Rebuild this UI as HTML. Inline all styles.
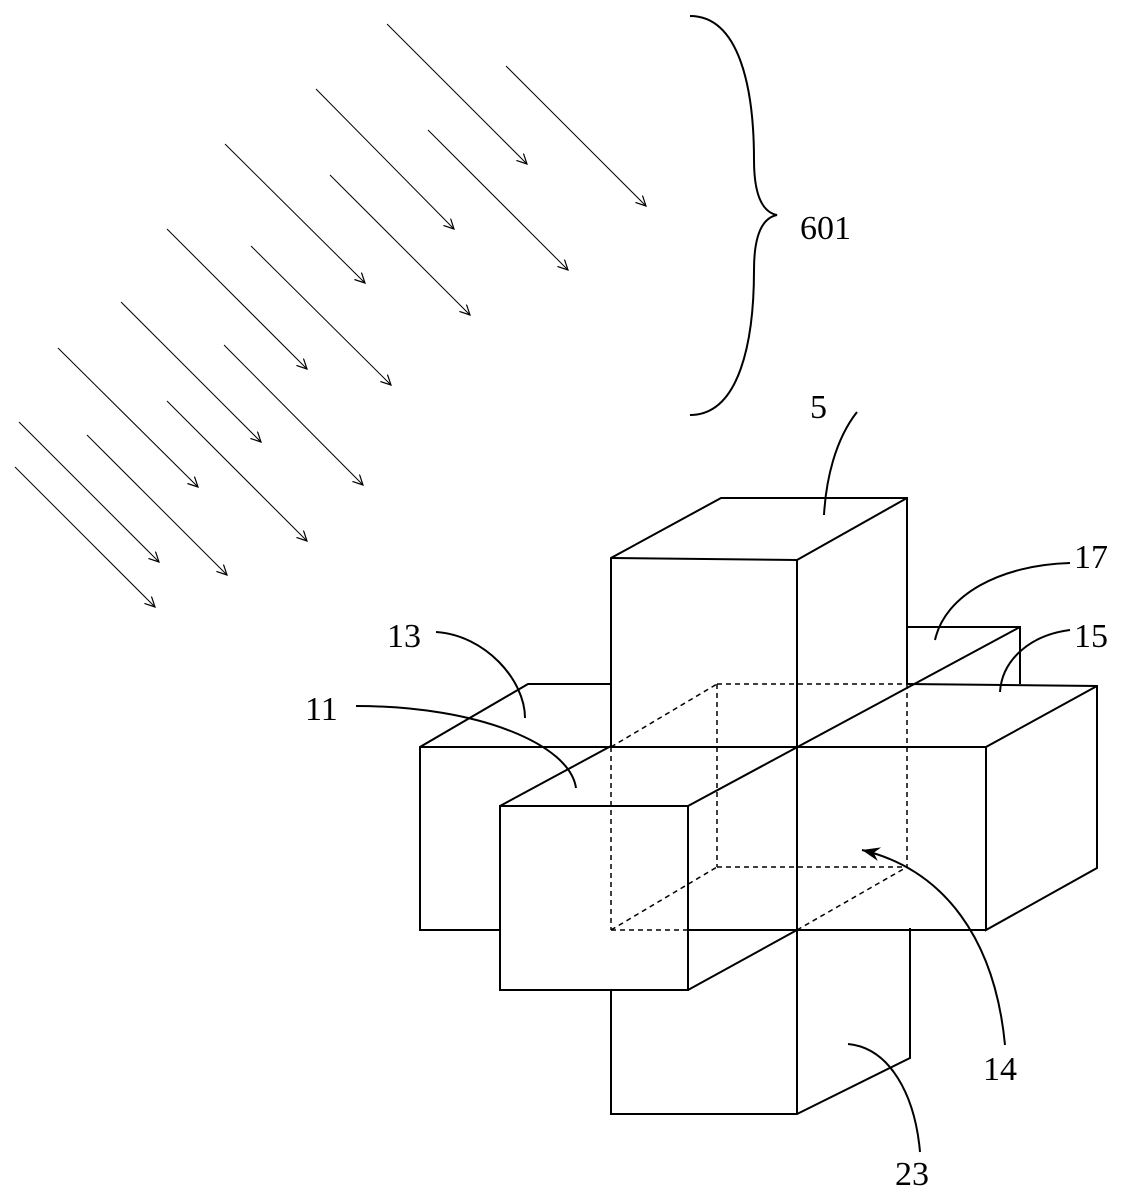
<!DOCTYPE html>
<html><head><meta charset="utf-8"><style>
html,body{margin:0;padding:0;background:#fff;}
svg{display:block;}
text{font-family:"Liberation Serif",serif;font-size:34px;fill:#000;}
</style></head><body>
<svg width="1146" height="1200" viewBox="0 0 1146 1200" xmlns="http://www.w3.org/2000/svg">
<defs>
<marker id="a" markerWidth="12" markerHeight="12" refX="10" refY="5" orient="auto" markerUnits="userSpaceOnUse">
<path d="M0,0 L10,5 L0,10" fill="none" stroke="#000" stroke-width="1.2"/>
</marker>
<marker id="b" markerWidth="22" markerHeight="18" refX="18" refY="8" orient="auto" markerUnits="userSpaceOnUse">
<path d="M0,1 L18,8 L0,15 L6,8 Z" fill="#000"/>
</marker>
</defs>
<g stroke="#000" stroke-width="1" marker-end="url(#a)">
<line x1="387" y1="24" x2="527" y2="164"/>
<line x1="506" y1="66" x2="646" y2="206"/>
<line x1="316" y1="89" x2="454" y2="229"/>
<line x1="428" y1="130" x2="568" y2="270"/>
<line x1="225" y1="144" x2="365" y2="283"/>
<line x1="330" y1="175" x2="470" y2="315"/>
<line x1="167" y1="229" x2="307" y2="369"/>
<line x1="251" y1="246" x2="391" y2="385"/>
<line x1="121" y1="302" x2="261" y2="442"/>
<line x1="224" y1="345" x2="363" y2="485"/>
<line x1="58" y1="348" x2="198" y2="487"/>
<line x1="167" y1="401" x2="307" y2="541"/>
<line x1="87" y1="435" x2="227" y2="575"/>
<line x1="19" y1="422" x2="159" y2="562"/>
<line x1="15" y1="467" x2="155" y2="607"/>
</g>
<path d="M690,16 C740,16 754,90 754,160 C754,195 762,212 777,215 C762,218 754,235 754,270 C754,340 740,415 690,415" fill="none" stroke="#000" stroke-width="2"/>
<text x="800" y="239">601</text>
<g fill="none" stroke="#000" stroke-width="2" stroke-linejoin="miter">
<path d="M611,746 L611,558 L721,498 L907,498 L907,684"/>
<path d="M611,558 L797,560 L907,498"/>
<line x1="797" y1="560" x2="797" y2="1114"/>
<path d="M500,930 L420,930 L420,747 L528,684 L611,684"/>
<line x1="420" y1="747" x2="986" y2="747"/>
<path d="M907,684 L1097,686 L1097,868 L986,930 L986,747 L1097,686"/>
<line x1="688" y1="930" x2="986" y2="930"/>
<path d="M907,627 L1020,627 L1020,684"/>
<line x1="688" y1="806" x2="1020" y2="627"/>
<path d="M500,806 L688,806 L688,990 L500,990 Z"/>
<path d="M500,806 L611,746"/>
<path d="M688,990 L797,930"/>
<path d="M611,990 L611,1114 L797,1114 L910,1058 L910,928"/>
</g>
<g fill="none" stroke="#000" stroke-width="1.5" stroke-dasharray="5,4">
<line x1="611" y1="747" x2="611" y2="930"/>
<line x1="611" y1="930" x2="688" y2="930"/>
<line x1="611" y1="747" x2="717" y2="684"/>
<line x1="717" y1="684" x2="907" y2="684"/>
<line x1="717" y1="684" x2="717" y2="867"/>
<line x1="717" y1="867" x2="907" y2="867"/>
<line x1="907" y1="684" x2="907" y2="867"/>
<line x1="611" y1="930" x2="717" y2="867"/>
<line x1="797" y1="930" x2="907" y2="867"/>
</g>
<g fill="none" stroke="#000" stroke-width="2">
<path d="M857,412 C835,440 826,480 824,515"/>
<path d="M1070,563 C1000,565 945,595 935,640"/>
<path d="M436,632 C485,635 525,680 525,718"/>
<path d="M1070,630 C1030,635 1002,660 1000,692"/>
<path d="M356,706 C480,706 570,745 576,788"/>
<path d="M1005,1045 C995,940 945,870 862,850" marker-end="url(#b)"/>
<path d="M848,1044 C890,1048 915,1095 920,1152"/>
</g>
<text x="810" y="418">5</text>
<text x="1074" y="568">17</text>
<text x="387" y="647">13</text>
<text x="1074" y="647">15</text>
<text x="305" y="720">11</text>
<text x="983" y="1080">14</text>
<text x="895" y="1185">23</text>
</svg>
</body></html>
